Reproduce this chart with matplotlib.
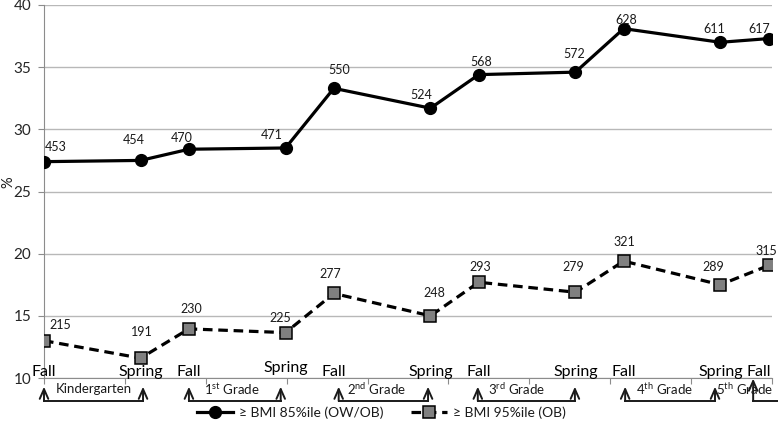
import matplotlib.pyplot as plt
import numpy as np

plt.rcParams['font.family'] = ['Lato', 'DejaVu Sans']
plt.rcParams['mathtext.fontset'] = 'custom'
plt.rcParams['mathtext.rm'] = 'Lato'
plt.rcParams['mathtext.it'] = 'Lato'

# ---------------------------------------------------------------- data
# time axis: Fall -> Spring = 2 units, Spring -> Fall = 1 unit
time = [0, 2, 3, 5, 6, 8, 9, 11, 12, 14, 15]
season = ['Fall', 'Spring'] * 5 + ['Fall']

ow_ob = [27.4, 27.5, 28.4, 28.5, 33.3, 31.7, 34.4, 34.6, 38.1, 37.0, 37.3]
ow_ob_n = [453, 454, 470, 471, 550, 524, 568, 572, 628, 611, 617]

ob = [13.0, 11.6, 13.95, 13.65, 16.8, 15.0, 17.7, 16.9, 19.4, 17.5, 19.05]
ob_n = [215, 191, 230, 225, 277, 248, 293, 279, 321, 289, 315]

grades = ['Kindergarten', r'1$^{\mathrm{st}}$ Grade', r'2$^{\mathrm{nd}}$ Grade',
          r'3$^{\mathrm{rd}}$ Grade', r'4$^{\mathrm{th}}$ Grade', r'5$^{\mathrm{th}}$ Grade']

# label offsets (pixels) as placed by hand in the original
ow_off = [(12, 15), (-7, 20), (-7, 11), (-14, 13), (5, 18), (-9, 13),
          (2, 13), (-1, 18), (3, 9), (-6, 13), (-9, 10)]
ob_off = [(16, 16), (1, 26), (2, 20), (-5, 15), (-4, 19), (4, 23),
          (2, 15), (-2, 25), (1, 19), (-7, 18), (-2, 14)]

# bracket arrow x positions (start, end) and grade label x
brackets = [(0, 2.05), (3.0, 4.9), (6.1, 7.95), (8.98, 10.99), (12.03, 13.89), (14.68, None)]
grade_x = [1.04, 3.89, 6.89, 9.79, 12.84, 14.5]

# ---------------------------------------------------------------- figure
fig = plt.figure(figsize=(7.78, 4.26), dpi=100)
ax = fig.add_axes([44 / 778, 1 - 378 / 426, (772 - 44) / 778, (378 - 5) / 426])

xmax = 15.07
gray = '#8c8c8c'
ink = '#1a1a1a'

ax.plot(time, ow_ob, color='black', lw=2.3, marker='o', ms=8.5,
        mfc='black', mec='black', label='≥ BMI 85%ile (OW/OB)', zorder=3)
ax.plot(time, ob, color='black', lw=2.3, ls=(0, (3, 1.8)), marker='s', ms=9,
        mfc='#808080', mec='black', mew=1.1, label='≥ BMI 95%ile (OB)', zorder=3)

for x, y, n, off in zip(time, ow_ob, ow_ob_n, ow_off):
    ax.annotate(str(n), (x, y), xytext=off, textcoords='offset pixels',
                ha='center', va='center', fontsize=9, color=ink)
for x, y, n, off in zip(time, ob, ob_n, ob_off):
    ax.annotate(str(n), (x, y), xytext=off, textcoords='offset pixels',
                ha='center', va='center', fontsize=9, color=ink)

ax.set_xlim(0, xmax)
ax.set_ylim(10, 40)
ax.set_yticks(np.arange(10, 41, 5))
ax.set_xticks(np.linspace(0, xmax, 10))
ax.set_xticklabels([])
ax.tick_params(axis='y', length=4, color=gray, labelsize=11, labelcolor='#262626', pad=5)
ax.tick_params(axis='x', length=4, color=gray)
ax.yaxis.grid(True, color='#b8b8b8', lw=1)
ax.set_axisbelow(True)
for s in ['top', 'right']:
    ax.spines[s].set_visible(False)
for s in ['left', 'bottom']:
    ax.spines[s].set_color(gray)
fig.text(8 / 778, 1 - 182 / 426, '%', rotation=90, ha='center', va='center',
         fontsize=10.5, color=ink)

# season labels just above the axis
for i, (x, s) in enumerate(zip(time, season)):
    ha = 'center'
    if i == len(time) - 1:
        x, ha = x + 0.04, 'right'
    y = 10.8 if i == 3 else 10.5
    ax.text(x, y, s, ha=ha, va='center', fontsize=11.5, color='black')

# grade brackets below the axis
y_top, y_bot, y_txt = 9.3, 8.15, 9.1
for (x0, x1), gx, g in zip(brackets, grade_x, grades):
    for x in (x0, x1):
        if x is None:
            continue
        ax.annotate('', xy=(x, y_top if x != 14.68 else 9.95), xytext=(x, y_bot),
                    arrowprops=dict(arrowstyle='->,head_length=0.5,head_width=0.22',
                                    lw=1.4, color=ink, shrinkA=0, shrinkB=0,
                                    mutation_scale=14),
                    annotation_clip=False)
    x_end = x1 if x1 is not None else xmax + 0.2
    ax.plot([x0, x_end], [y_bot, y_bot], color=ink, lw=1.4, clip_on=False)
    ax.text(gx, y_txt, g, ha='center', va='center', fontsize=9.5, color=ink)

fig.legend(loc='center', bbox_to_anchor=(0.49, 1 - 413 / 426), ncol=2,
           frameon=False, fontsize=10, handlelength=2.6, columnspacing=2.0,
           handletextpad=0.4, labelcolor=ink)

fig.savefig('out.png', dpi=100)
